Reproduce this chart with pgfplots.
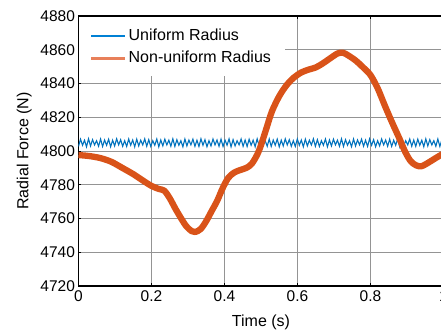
\documentclass[border=0pt]{standalone}
\usepackage{fontspec}
\setmainfont{Liberation Sans}
\usepackage{pgfplots}
\pgfplotsset{compat=1.18}
\definecolor{mblue}{RGB}{0,114,189}
\definecolor{morange}{RGB}{217,83,25}
\definecolor{lblue}{RGB}{0,128,212}
\definecolor{lorange}{RGB}{232,128,90}
\begin{document}
\begin{tikzpicture}
\begin{axis}[name=ax,
  scale only axis, width=365bp, height=270bp,
  xmin=0, xmax=1, ymin=4720, ymax=4880,
  xtick={0,0.2,0.4,0.6,0.8,1}, ytick={4720,4740,4760,4780,4800,4820,4840,4860,4880},
  xticklabels={0,0.2,0.4,0.6,0.8,1},
  /pgf/number format/assume math mode=true,
  yticklabel style={/pgf/number format/1000 sep={}},
  xticklabel style={yshift=-1.5bp},
  tick label style={font=\fontsize{15.5bp}{18bp}\selectfont},
  label style={font=\fontsize{16bp}{19bp}\selectfont},
  xlabel={Time (s)}, ylabel={Radial Force (N)},
  xlabel style={at={(axis description cs:0.5,-0.151)}, anchor=base},
  ylabel style={at={(axis description cs:-0.137,0.5)}, anchor=base},
  grid=major, major grid style={black!42, line width=0.8bp},
  axis line style={black, line width=1.2bp},
  tick style={black, line width=0.8bp}, major tick length=3bp,
  tick align=inside,
  legend cell align=left,
  legend style={draw=none, fill=white, at={(0,1)}, anchor=north west,
    xshift=0.6bp, yshift=-1bp, inner xsep=12bp, inner ysep=10bp, row sep=5bp, column sep=2bp,
    font=\fontsize{16bp}{19bp}\selectfont},
]
\addlegendimage{legend image code/.code={\fill[lblue] (0bp,-0.8bp) rectangle (33bp,0.8bp);}}
\addlegendentry{Uniform Radius}
\addlegendimage{legend image code/.code={\fill[lorange] (0bp,-0.9bp) rectangle (33bp,0.9bp);}}
\addlegendentry{Non-uniform Radius}
\addplot[mblue, line width=1.1bp, forget plot] coordinates {
(0,4802.7) (0.0055,4807.0) (0.011,4803.4) (0.0165,4806.4) (0.022,4802.5) (0.0275,4807.2) (0.033,4803.0) (0.0385,4806.7) (0.044,4803.6) (0.0495,4806.1)
(0.055,4802.8) (0.0605,4807.1) (0.066,4802.7) (0.0715,4806.5) (0.077,4803.4) (0.0825,4807.0) (0.088,4802.5) (0.0935,4806.4) (0.099,4803.0) (0.1045,4807.2)
(0.11,4803.6) (0.1155,4806.7) (0.121,4802.8) (0.1265,4806.1) (0.132,4802.7) (0.1375,4807.1) (0.143,4803.4) (0.1485,4806.5) (0.154,4802.5) (0.1595,4807.0)
(0.165,4803.0) (0.1705,4806.4) (0.176,4803.6) (0.1815,4807.2) (0.187,4802.8) (0.1925,4806.7) (0.198,4802.7) (0.2035,4806.1) (0.209,4803.4) (0.2145,4807.1)
(0.22,4802.5) (0.2255,4806.5) (0.231,4803.0) (0.2365,4807.0) (0.242,4803.6) (0.2475,4806.4) (0.253,4802.8) (0.2585,4807.2) (0.264,4802.7) (0.2695,4806.7)
(0.275,4803.4) (0.2805,4806.1) (0.286,4802.5) (0.2915,4807.1) (0.297,4803.0) (0.3025,4806.5) (0.308,4803.6) (0.3135,4807.0) (0.319,4802.8) (0.3245,4806.4)
(0.33,4802.7) (0.3355,4807.2) (0.341,4803.4) (0.3465,4806.7) (0.352,4802.5) (0.3575,4806.1) (0.363,4803.0) (0.3685,4807.1) (0.374,4803.6) (0.3795,4806.5)
(0.385,4802.8) (0.3905,4807.0) (0.396,4802.7) (0.4015,4806.4) (0.407,4803.4) (0.4125,4807.2) (0.418,4802.5) (0.4235,4806.7) (0.429,4803.0) (0.4345,4806.1)
(0.44,4803.6) (0.4455,4807.1) (0.451,4802.8) (0.4565,4806.5) (0.462,4802.7) (0.4675,4807.0) (0.473,4803.4) (0.4785,4806.4) (0.484,4802.5) (0.4895,4807.2)
(0.495,4803.0) (0.5005,4806.7) (0.506,4803.6) (0.5115,4806.1) (0.517,4802.8) (0.5225,4807.1) (0.528,4802.7) (0.5335,4806.5) (0.539,4803.4) (0.5445,4807.0)
(0.55,4802.5) (0.5555,4806.4) (0.561,4803.0) (0.5665,4807.2) (0.572,4803.6) (0.5775,4806.7) (0.583,4802.8) (0.5885,4806.1) (0.594,4802.7) (0.5995,4807.1)
(0.605,4803.4) (0.6105,4806.5) (0.616,4802.5) (0.6215,4807.0) (0.627,4803.0) (0.6325,4806.4) (0.638,4803.6) (0.6435,4807.2) (0.649,4802.8) (0.6545,4806.7)
(0.66,4802.7) (0.6655,4806.1) (0.671,4803.4) (0.6765,4807.1) (0.682,4802.5) (0.6875,4806.5) (0.693,4803.0) (0.6985,4807.0) (0.704,4803.6) (0.7095,4806.4)
(0.715,4802.8) (0.7205,4807.2) (0.726,4802.7) (0.7315,4806.7) (0.737,4803.4) (0.7425,4806.1) (0.748,4802.5) (0.7535,4807.1) (0.759,4803.0) (0.7645,4806.5)
(0.77,4803.6) (0.7755,4807.0) (0.781,4802.8) (0.7865,4806.4) (0.792,4802.7) (0.7975,4807.2) (0.803,4803.4) (0.8085,4806.7) (0.814,4802.5) (0.8195,4806.1)
(0.825,4803.0) (0.8305,4807.1) (0.836,4803.6) (0.8415,4806.5) (0.847,4802.8) (0.8525,4807.0) (0.858,4802.7) (0.8635,4806.4) (0.869,4803.4) (0.8745,4807.2)
(0.88,4802.5) (0.8855,4806.7) (0.891,4803.0) (0.8965,4806.1) (0.902,4803.6) (0.9075,4807.1) (0.913,4802.8) (0.9185,4806.5) (0.924,4802.7) (0.9295,4807.0)
(0.935,4803.4) (0.9405,4806.4) (0.946,4802.5) (0.9515,4807.2) (0.957,4803.0) (0.9625,4806.7) (0.968,4803.6) (0.9735,4806.1) (0.979,4802.8) (0.9845,4807.1)
(0.99,4802.7) (0.9955,4806.5) (1.0,4803.4)
};
\addplot[morange, line width=6.3bp, smooth, line join=round, forget plot] coordinates {
(0,4797.6) (0.03,4797.0) (0.06,4795.8) (0.09,4793.6) (0.12,4790.0) (0.15,4786.3) (0.18,4782.0) (0.2,4779.3) (0.22,4777.5) (0.235,4776.5)
(0.25,4772.0) (0.265,4766.0) (0.28,4760.5) (0.295,4755.5) (0.31,4752.5) (0.32,4752.0) (0.335,4753.8) (0.35,4758.5) (0.365,4764.5) (0.38,4770.5)
(0.395,4778.0) (0.41,4784.0) (0.425,4787.0) (0.44,4788.5) (0.46,4790.0) (0.475,4792.5) (0.49,4798.0) (0.5,4803.5) (0.515,4813.5) (0.53,4823.5)
(0.55,4832.5) (0.57,4839.0) (0.59,4843.5) (0.61,4846.5) (0.63,4848.2) (0.65,4849.5) (0.67,4852.0) (0.69,4855.0) (0.71,4857.8) (0.725,4858.2)
(0.74,4856.5) (0.76,4853.5) (0.78,4849.5) (0.8,4845.0) (0.82,4837.0) (0.84,4826.5) (0.86,4816.5) (0.88,4807.0) (0.895,4799.5) (0.91,4794.0)
(0.925,4791.5) (0.94,4791.0) (0.96,4793.3) (0.98,4796.0) (1.0,4798.5)
};
\end{axis}
\pgfresetboundingbox
\path ([shift={(-78.5bp,-45bp)}]ax.south west) rectangle ([shift={(-2.5bp,16bp)}]ax.north east);
\end{tikzpicture}
\end{document}
